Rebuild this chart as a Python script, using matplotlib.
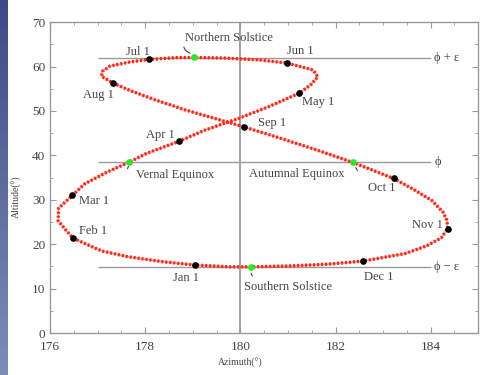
import numpy as np
import matplotlib.pyplot as plt
from matplotlib.colors import LinearSegmentedColormap

plt.rcParams['font.family'] = ['Liberation Serif', 'DejaVu Serif']

# Sun position at local noon (about one point a week)
dates = ['Jan 1', 'Jan 8', 'Jan 15', 'Jan 22', 'Feb 1', 'Feb 8', 'Feb 15', 'Feb 22',
         'Mar 1', 'Mar 8', 'Mar 15', 'Mar 20', 'Mar 25', 'Apr 1', 'Apr 8', 'Apr 15',
         'Apr 22', 'May 1', 'May 8', 'May 15', 'May 22', 'Jun 1', 'Jun 8', 'Jun 15',
         'Jun 21', 'Jun 25', 'Jul 1', 'Jul 8', 'Jul 15', 'Jul 22', 'Jul 27', 'Aug 1',
         'Aug 8', 'Aug 15', 'Aug 22', 'Sep 1', 'Sep 8', 'Sep 15', 'Sep 22', 'Oct 1',
         'Oct 8', 'Oct 15', 'Oct 22', 'Oct 27', 'Nov 1', 'Nov 8', 'Nov 15', 'Nov 22',
         'Dec 1', 'Dec 8', 'Dec 15', 'Dec 21', 'Dec 25', 'Jan 1']
azimuth = [179.05, 178.33, 177.62, 177.08, 176.49, 176.33, 176.17, 176.18,
           176.47, 176.73, 177.19, 177.65, 178.02, 178.72, 179.26, 179.96,
           180.58, 181.24, 181.49, 181.63, 181.53, 180.98, 180.38, 179.66,
           179.02, 178.65, 178.07, 177.67, 177.26, 177.10, 177.08, 177.32,
           177.68, 178.21, 178.85, 180.08, 180.83, 181.58, 182.37, 183.22,
           183.63, 184.03, 184.26, 184.34, 184.36, 184.22, 183.91, 183.47,
           182.58, 181.86, 181.05, 180.23, 179.78, 179.05]
altitude = [15.3, 16.1, 17.2, 18.5, 21.3, 23.2, 25.3, 28.1,
            31.0, 33.6, 36.2, 38.4, 40.4, 43.2, 45.7, 48.3,
            50.9, 54.0, 56.0, 57.7, 59.2, 60.8, 61.5, 61.9,
            62.05, 62.0, 61.6, 61.0, 60.1, 58.9, 57.8, 56.3,
            54.6, 52.5, 50.2, 46.4, 43.9, 41.3, 38.4, 34.8,
            32.4, 29.8, 27.2, 25.4, 23.5, 21.4, 19.6, 17.9,
            16.2, 15.5, 15.1, 14.9, 14.9, 15.3]

# first of each month
months = ['Jan 1', 'Feb 1', 'Mar 1', 'Apr 1', 'May 1', 'Jun 1',
          'Jul 1', 'Aug 1', 'Sep 1', 'Oct 1', 'Nov 1', 'Dec 1']
month_az = [179.05, 176.49, 176.47, 178.72, 181.24, 180.98,
            178.07, 177.32, 180.08, 183.22, 184.36, 182.58]
month_alt = [15.3, 21.3, 31.0, 43.2, 54.0, 60.8,
             61.6, 56.3, 46.4, 34.8, 23.5, 16.2]

# solstices and equinoxes
events = ['Northern Solstice', 'Southern Solstice', 'Vernal Equinox', 'Autumnal Equinox']
event_az = [179.02, 180.23, 177.65, 182.37]
event_alt = [62.05, 14.9, 38.4, 38.4]

# latitude lines
levels = [61.9, 38.4, 14.9]
level_labels = ['\u03d5 + \u03b5', '\u03d5', '\u03d5 \u2212 \u03b5']

grey = '#9a9a9a'
txt = '#444444'

fig = plt.figure(figsize=(4.86, 3.75), dpi=100)

# blue slide strip on the left
band = fig.add_axes([0, 0, 0.015, 1])
cmap = LinearSegmentedColormap.from_list('band', ['#3e4a86', '#7d8db6'])
band.imshow(np.linspace(0, 1, 100).reshape(-1, 1), aspect='auto', cmap=cmap)
band.axis('off')

ax = fig.add_axes([0.103, 0.112, 0.881, 0.829])

ax.axvline(180, color=grey, lw=1.3, zorder=1)
ax.hlines(levels, 177, 184, color=grey, lw=1.0, zorder=1)
for lev, lab in zip(levels, level_labels):
    ax.text(184.08, lev, lab, fontsize=9, color=txt, ha='left', va='center')

# the analemma: faint solid trace plus dotted daily marks
ax.plot(azimuth, altitude, color='#ff4a3a', lw=1.2, alpha=0.55, zorder=2)
ax.plot(azimuth, altitude, color='#ff2010', lw=2.4, ls=(0, (0.6, 0.6)), zorder=3)

ax.plot(month_az, month_alt, 'o', color='black', ms=3.8, zorder=5)
ax.plot(event_az, event_alt, 'o', color='#22ee22', ms=3.8, zorder=5)

month_text = {
    'Jan 1': (178.86, 12.4), 'Feb 1': (176.9, 23.0), 'Mar 1': (176.93, 29.7),
    'Apr 1': (178.32, 44.6), 'May 1': (181.64, 52.0), 'Jun 1': (181.26, 63.5),
    'Jul 1': (177.84, 63.3), 'Aug 1': (177.01, 53.6), 'Sep 1': (180.67, 47.3),
    'Oct 1': (182.97, 32.6), 'Nov 1': (183.94, 24.3), 'Dec 1': (182.9, 12.6),
}
for m in months:
    x, y = month_text[m]
    ax.text(x, y, m, fontsize=9, color=txt, ha='center', va='center')

event_text = {
    'Northern Solstice': (179.75, 66.4),
    'Southern Solstice': (181.0, 10.4),
    'Vernal Equinox': (178.62, 35.6),
    'Autumnal Equinox': (181.18, 35.8),
}
# little hooked leaders: (start of hook, end near the green dot, curvature)
hooks = {
    'Northern Solstice': ((178.8, 65.0), (179.0, 62.9), 'arc3,rad=0.4'),
    'Southern Solstice': ((180.3, 12.5), (180.23, 14.1), 'arc3,rad=-0.4'),
    'Vernal Equinox': ((177.65, 36.4), (177.65, 37.5), 'arc3,rad=-0.4'),
    'Autumnal Equinox': ((182.45, 35.9), (182.37, 37.5), 'arc3,rad=0.5'),
}
for ev in events:
    x, y = event_text[ev]
    ax.text(x, y, ev, fontsize=9, color=txt, ha='center', va='center')
    start, end, conn = hooks[ev]
    ax.annotate('', xy=end, xytext=start,
                arrowprops=dict(arrowstyle='-', color=txt, lw=0.8, connectionstyle=conn))

ax.set_xlim(176, 185)
ax.set_ylim(0, 70)
ax.set_xticks([176, 178, 180, 182, 184])
ax.set_xticks(np.arange(176, 185.1, 0.5), minor=True)
ax.set_yticks(np.arange(0, 71, 10))
ax.set_yticks(np.arange(0, 71, 5), minor=True)
ax.tick_params(which='both', direction='in', top=True, right=True, colors=grey,
               labelcolor=txt, labelsize=9.5)
ax.tick_params(which='major', length=4)
ax.tick_params(which='minor', length=2.5)
ax.tick_params(axis='x', pad=6)
for s in ax.spines.values():
    s.set_color(grey)
    s.set_linewidth(1.0)

ax.set_xlabel('Azimuth(\u00b0)', fontsize=7, color=txt)
ax.set_ylabel('Altitude(\u00b0)', fontsize=7, color=txt)
ax.xaxis.set_label_coords(0.444, -0.08)
ax.yaxis.set_label_coords(-0.065, 0.44)

fig.savefig('out.png', dpi=100)
